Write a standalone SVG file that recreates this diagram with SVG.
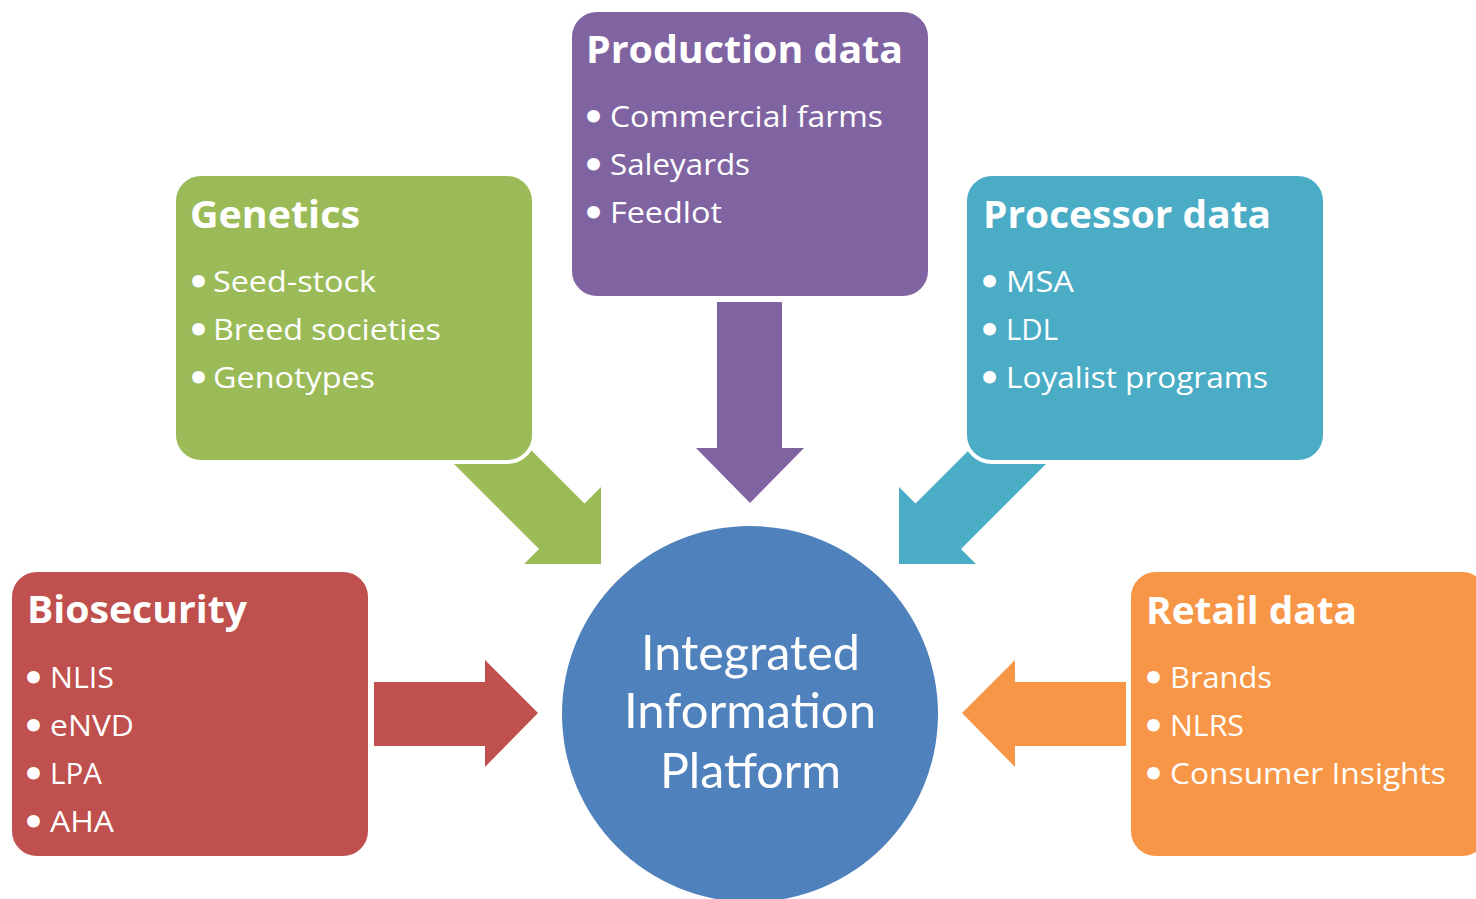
<svg xmlns="http://www.w3.org/2000/svg" width="1476" height="899" viewBox="0 0 1476 899">
<style>
.box{stroke:#FFFFFF;stroke-width:4}
.t{font-family:"Open Sans","Noto Sans","Liberation Sans",sans-serif;fill:#FFFFFF}
.title{font-size:37px;font-weight:bold}
.item{font-size:30px}
.bul{font-family:"DejaVu Sans",sans-serif;font-weight:bold;font-size:36px}
.big{font-family:Lato,"Open Sans",sans-serif;font-size:48px}
</style>
<rect width="1476" height="899" fill="#FFFFFF"/>
<g id="connectors">
<polygon fill="#9BBB59" points="430,440 539,549 524,564 601,564 601,487 584.5,503.5 475.5,394.5"/>
<polygon fill="#4BACC6" points="1070,440 961,549 976,564 899,564 899,487 915.5,503.5 1024.5,394.5"/>
<polygon fill="#8064A2" points="717,302 782,302 782,448 804,448 750,503 696,448 717,448"/>
<polygon fill="#C0504D" points="374,682 485,682 485,660 538,713 485,767 485,746 374,746"/>
<polygon fill="#F79646" points="1126,682 1015,682 1015,660 962,713 1015,767 1015,746 1126,746"/>
</g>
<g id="production">
<rect class="box" x="570" y="10" width="360" height="288" rx="27" fill="#8064A2"/>
<text class="t title" x="586" y="63" textLength="317" lengthAdjust="spacingAndGlyphs">Production data</text>
<text class="t item" y="127"><tspan class="bul" x="582" dy="3">•</tspan><tspan x="610" dy="-3" textLength="273" lengthAdjust="spacingAndGlyphs">Commercial farms</tspan></text>
<text class="t item" y="175"><tspan class="bul" x="582" dy="3">•</tspan><tspan x="610" dy="-3" textLength="140" lengthAdjust="spacingAndGlyphs">Saleyards</tspan></text>
<text class="t item" y="223"><tspan class="bul" x="582" dy="3">•</tspan><tspan x="610" dy="-3" textLength="112" lengthAdjust="spacingAndGlyphs">Feedlot</tspan></text>
</g>
<g id="genetics">
<rect class="box" x="174" y="174" width="360" height="288" rx="27" fill="#9BBB59"/>
<text class="t title" x="190" y="228" textLength="170" lengthAdjust="spacingAndGlyphs">Genetics</text>
<text class="t item" y="292"><tspan class="bul" x="187" dy="3">•</tspan><tspan x="213" dy="-3" textLength="163" lengthAdjust="spacingAndGlyphs">Seed-stock</tspan></text>
<text class="t item" y="340"><tspan class="bul" x="187" dy="3">•</tspan><tspan x="213" dy="-3" textLength="228" lengthAdjust="spacingAndGlyphs">Breed societies</tspan></text>
<text class="t item" y="388"><tspan class="bul" x="187" dy="3">•</tspan><tspan x="213" dy="-3" textLength="162" lengthAdjust="spacingAndGlyphs">Genotypes</tspan></text>
</g>
<g id="processor">
<rect class="box" x="965" y="174" width="360" height="288" rx="27" fill="#4BACC6"/>
<text class="t title" x="983" y="228" textLength="288" lengthAdjust="spacingAndGlyphs">Processor data</text>
<text class="t item" y="292"><tspan class="bul" x="978" dy="3">•</tspan><tspan x="1006" dy="-3" textLength="68" lengthAdjust="spacingAndGlyphs">MSA</tspan></text>
<text class="t item" y="340"><tspan class="bul" x="978" dy="3">•</tspan><tspan x="1006" dy="-3" textLength="52" lengthAdjust="spacingAndGlyphs">LDL</tspan></text>
<text class="t item" y="388"><tspan class="bul" x="978" dy="3">•</tspan><tspan x="1006" dy="-3" textLength="262" lengthAdjust="spacingAndGlyphs">Loyalist programs</tspan></text>
</g>
<g id="biosecurity">
<rect class="box" x="10" y="570" width="360" height="288" rx="27" fill="#C0504D"/>
<text class="t title" x="27" y="623" textLength="220" lengthAdjust="spacingAndGlyphs">Biosecurity</text>
<text class="t item" y="688"><tspan class="bul" x="22" dy="3">•</tspan><tspan x="50" dy="-3" textLength="64" lengthAdjust="spacingAndGlyphs">NLIS</tspan></text>
<text class="t item" y="736"><tspan class="bul" x="22" dy="3">•</tspan><tspan x="50" dy="-3" textLength="84" lengthAdjust="spacingAndGlyphs">eNVD</tspan></text>
<text class="t item" y="784"><tspan class="bul" x="22" dy="3">•</tspan><tspan x="50" dy="-3" textLength="52" lengthAdjust="spacingAndGlyphs">LPA</tspan></text>
<text class="t item" y="832"><tspan class="bul" x="22" dy="3">•</tspan><tspan x="50" dy="-3" textLength="64" lengthAdjust="spacingAndGlyphs">AHA</tspan></text>
</g>
<g id="retail">
<rect class="box" x="1129" y="570" width="360" height="288" rx="27" fill="#F79646"/>
<text class="t title" x="1146" y="624" textLength="211" lengthAdjust="spacingAndGlyphs">Retail data</text>
<text class="t item" y="688"><tspan class="bul" x="1142" dy="3">•</tspan><tspan x="1170" dy="-3" textLength="102" lengthAdjust="spacingAndGlyphs">Brands</tspan></text>
<text class="t item" y="736"><tspan class="bul" x="1142" dy="3">•</tspan><tspan x="1170" dy="-3" textLength="74" lengthAdjust="spacingAndGlyphs">NLRS</tspan></text>
<text class="t item" y="784"><tspan class="bul" x="1142" dy="3">•</tspan><tspan x="1170" dy="-3" textLength="276" lengthAdjust="spacingAndGlyphs">Consumer Insights</tspan></text>
</g>
<g id="platform">
<circle cx="750" cy="714" r="188" fill="#4F81BD"/>
<text class="t big"><tspan x="641" y="670" textLength="219" lengthAdjust="spacingAndGlyphs">Integrated</tspan><tspan x="624" y="728" textLength="252" lengthAdjust="spacingAndGlyphs">Information</tspan><tspan x="660" y="788" textLength="181" lengthAdjust="spacingAndGlyphs">Platform</tspan></text>
</g>
</svg>
